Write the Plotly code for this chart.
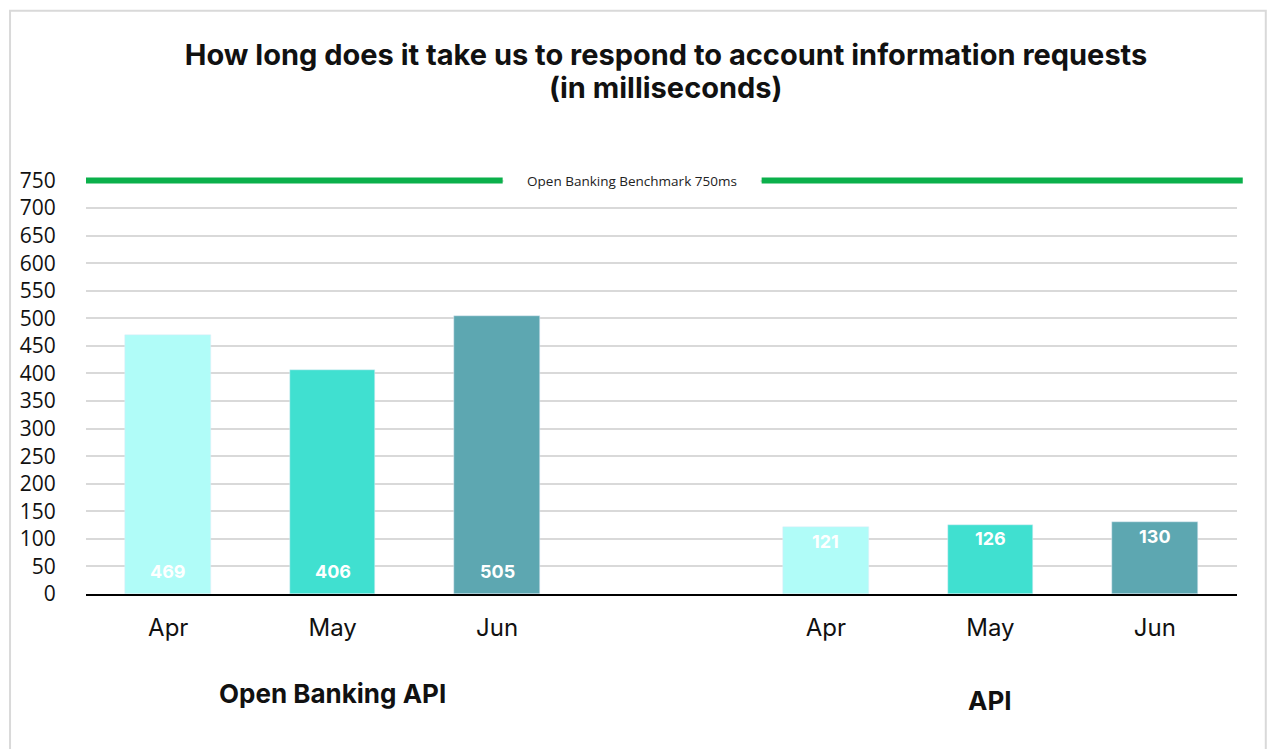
import plotly.graph_objects as go

months = ["Apr", "May", "Jun"]
groups = ["Open Banking API", "API"]
open_banking_values = [469, 406, 505]
api_values = [121, 126, 130]
benchmark = 750
benchmark_label = "Open Banking Benchmark 750ms"
title_line1 = "How long does it take us to respond to account information requests"
title_line2 = "(in milliseconds)"
y_ticks = list(range(0, 751, 50))

colors = ["#B0FCF8", "#40E0D0", "#5DA7B1"]

pos_ob = [0, 1, 2]
pos_api = [4, 5, 6]

fig = go.Figure()
fig.add_trace(go.Bar(x=pos_ob, y=open_banking_values, marker_color=colors, width=0.52,
                     showlegend=False, hoverinfo="y"))
fig.add_trace(go.Bar(x=pos_api, y=api_values, marker_color=colors, width=0.52,
                     showlegend=False, hoverinfo="y"))

label_font = dict(color="white", size=18, family="Inter")
for x, v in zip(pos_ob, open_banking_values):
    fig.add_annotation(x=x, y=0, xref="x", yref="y", text="<b>%d</b>" % v, showarrow=False,
                       yanchor="middle", yshift=23, font=label_font)
for x, v in zip(pos_api, api_values):
    fig.add_annotation(x=x, y=v, xref="x", yref="y", text="<b>%d</b>" % v, showarrow=False,
                       yanchor="middle", yshift=-14, font=label_font)

line_style = dict(color="#0BB04B", width=6)
fig.add_shape(type="line", xref="paper", yref="y", x0=0, x1=0.362, y0=benchmark, y1=benchmark, line=line_style)
fig.add_shape(type="line", xref="paper", yref="y", x0=0.587, x1=1.005, y0=benchmark, y1=benchmark, line=line_style)
pad = "&nbsp;" * 6
fig.add_annotation(x=2.82, y=benchmark, xref="x", yref="y", text=pad + benchmark_label + pad, showarrow=False,
                   bgcolor="white", borderpad=2,
                   font=dict(size=13.5, color="#222222", family="Open Sans"))

fig.add_annotation(x=1, y=-0.238, xref="x", yref="paper", text="<b>" + groups[0] + "</b>", showarrow=False,
                   yanchor="middle", font=dict(size=26, color="#111111", family="Inter"))
fig.add_annotation(x=5, y=-0.253, xref="x", yref="paper", text="<b>" + groups[1] + "</b>", showarrow=False,
                   yanchor="middle", font=dict(size=26, color="#111111", family="Inter"))

# second title line
fig.add_annotation(x=(666 - 86) / 1151.5, y=(594 - 87) / 419.5, xref="paper", yref="paper",
                   text="<b>" + title_line2 + "</b>", showarrow=False, yanchor="middle", xanchor="center",
                   font=dict(size=29, color="#111111", family="Inter"))

# outer border
fig.add_shape(type="rect", xref="paper", yref="paper", x0=-0.066, x1=1.025, y0=-0.5, y1=1.392,
              line=dict(color="#D9D9D9", width=2), layer="below")

fig.update_layout(
    width=1268, height=749,
    paper_bgcolor="white", plot_bgcolor="white",
    margin=dict(l=86, r=30.5, t=174.5, b=155),
    bargap=0,
    title=dict(text="<b>" + title_line1 + "</b>", x=666 / 1268, xref="container", xanchor="center",
               y=1 - 55 / 749, yref="container", yanchor="middle",
               font=dict(size=29, color="#111111", family="Inter")),
    xaxis=dict(range=[-0.5, 6.5], tickvals=pos_ob + pos_api, ticktext=months + months,
               showgrid=False, zeroline=False, showline=True, linecolor="black", linewidth=2,
               ticks="outside", ticklen=11, tickcolor="rgba(0,0,0,0)",
               tickfont=dict(size=24, color="#111111", family="Inter")),
    yaxis=dict(range=[0, 760], tickvals=y_ticks, showgrid=True, gridcolor="#D9D9D9", gridwidth=1.5,
               zeroline=False, ticks="outside", ticklen=25, tickcolor="rgba(0,0,0,0)",
               tickfont=dict(size=21, color="#111111", family="Open Sans")),
)

fig.write_html("out.html", config={"displayModeBar": False},
               post_script="document.body.style.margin='0';document.body.style.overflow='hidden';")
